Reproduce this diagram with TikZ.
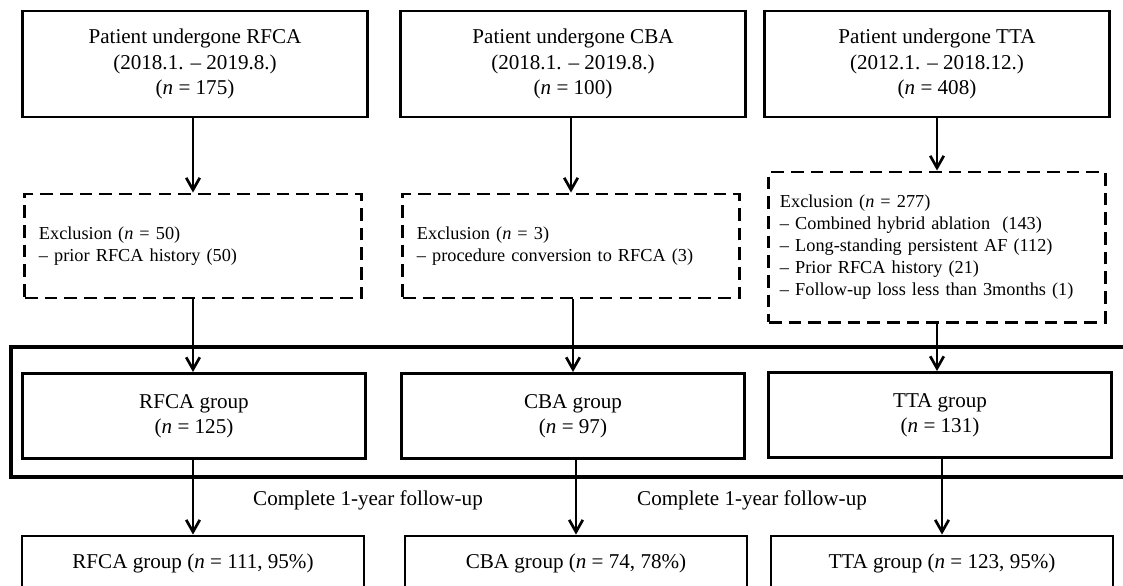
\documentclass[tikz,border=0pt]{standalone}
\usepackage{fontspec}
\setmainfont{Liberation Serif}
\usetikzlibrary{arrows.meta,positioning}

\begin{document}
\begin{tikzpicture}[x=0.025cm, y=-0.025cm,
      source/.style={draw, line width=2.1pt, minimum width=8.6cm, minimum height=2.65cm,
                     align=center, font=\fontsize{15}{18}\selectfont},
      exclusion/.style={draw, dash pattern=on 9pt off 5pt, line width=2.1pt, minimum width=8.4cm,
                        minimum height=2.6cm, text width=7.7cm, align=left,
                        font=\fontsize{13}{15.6}\selectfont},
      group/.style={draw, line width=2.1pt, minimum width=8.55cm, minimum height=2.125cm,
                    align=center, font=\fontsize{15}{18}\selectfont},
      final/.style={draw, line width=2pt, minimum width=8.55cm, minimum height=1.35cm,
                    font=\fontsize{15}{18}\selectfont},
      frame/.style={draw, line width=2.6pt},
      arr/.style={-{Straight Barb[length=3mm, width=3.4mm]}, line width=1.9pt},
      note/.style={font=\fontsize{15}{18}\selectfont}
    ]
      \useasboundingbox (0,0) rectangle (1123,585);
      \clip (0,0) rectangle (1123,585);

      % Sources
      \node[source] (rfcatop) at (195,64) {Patient undergone RFCA\\(2018.1. -- 2019.8.)\\(\textit{n} = 175)};
      \node[source] (cbatop) at (573,64) {Patient undergone CBA\\(2018.1. -- 2019.8.)\\(\textit{n} = 100)};
      \node[source] (ttatop) at (937,64) {Patient undergone TTA\\(2012.1. -- 2018.12.)\\(\textit{n} = 408)};

      % Exclusions
      \node[exclusion] (rfcaexcl) at (193,246) {Exclusion (\textit{n} = 50)\\-- prior RFCA history (50)};
      \node[exclusion] (cbaexcl) at (571,246) {Exclusion (\textit{n} = 3)\\-- procedure conversion to RFCA (3)};
      \node[exclusion, minimum height=3.75cm, text width=7.85cm] (ttaexcl) at (937,247)
        {Exclusion (\textit{n} = 277)\\-- Combined hybrid ablation~ (143)\\-- Long-standing persistent AF (112)\\-- Prior RFCA history (21)\\-- Follow-up loss less than 3months (1)};

      % Study groups
      \draw[frame] (11,347) rectangle (1140,477);
      \node[group] (rfcagroup) at (194,416) {RFCA group\\(\textit{n} = 125)};
      \node[group] (cbagroup) at (573,416) {CBA group\\(\textit{n} = 97)};
      \node[group] (ttagroup) at (940,415) {TTA group\\(\textit{n} = 131)};

      % Follow-up
      \node[final] (rfcafinal) at (193,563) {RFCA group (\textit{n} = 111, 95\%)};
      \node[final] (cbafinal) at (576,563) {CBA group (\textit{n} = 74, 78\%)};
      \node[final] (ttafinal) at (942,563) {TTA group (\textit{n} = 123, 95\%)};

      % Arrows
      \draw[arr] (rfcatop.south -| rfcaexcl.north) -- (rfcaexcl.north);
      \draw[arr] (cbatop.south -| cbaexcl.north) -- (cbaexcl.north);
      \draw[arr] (ttatop.south) -- (ttaexcl.north);
      \draw[arr] (rfcaexcl.south) -- (rfcaexcl.south |- rfcagroup.north);
      \draw[arr] (cbaexcl.south -| cbagroup.north) -- (cbagroup.north);
      \draw[arr] (ttaexcl.south) -- (ttaexcl.south |- ttagroup.north);
      \draw[arr] (rfcagroup.south -| rfcafinal.north) -- (rfcafinal.north);
      \draw[arr] (cbagroup.south -| cbafinal.north) -- (cbafinal.north);
      \draw[arr] (ttagroup.south -| ttafinal.north) -- (ttafinal.north);

      % Labels
      \node[note] (followa) at (368,500) {Complete 1-year follow-up};
      \node[note] (followb) at (752,500) {Complete 1-year follow-up};
    \end{tikzpicture}
\end{document}
